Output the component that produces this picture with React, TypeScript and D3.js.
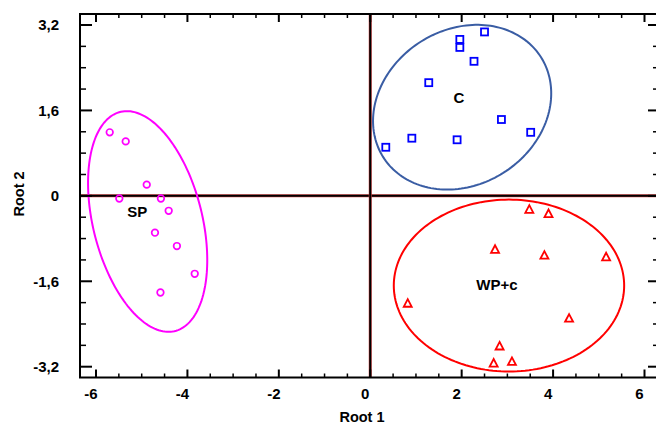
import React from "react";
import * as d3 from "d3";

// ---- Data (Root 1, Root 2) ----
const spX = [-5.70, -5.35, -4.89, -5.49, -4.58, -4.41, -4.71, -4.23, -3.84, -4.59];
const spY = [1.19, 1.02, 0.21, -0.05, -0.05, -0.28, -0.69, -0.94, -1.46, -1.81];

const cX = [2.50, 1.96, 1.96, 2.27, 1.28, 2.87, 3.51, 0.91, 1.90, 0.34];
const cY = [3.07, 2.93, 2.78, 2.52, 2.12, 1.43, 1.19, 1.08, 1.05, 0.91];

const wpX = [3.48, 3.90, 2.73, 3.81, 5.16, 0.82, 4.35, 2.83, 2.70, 3.10];
const wpY = [-0.25, -0.33, -1.00, -1.11, -1.14, -2.01, -2.29, -2.81, -3.13, -3.10];

// Ellipses: [centerX, centerY, semiAxisA, semiAxisB, angleDeg] in data units
const spEllipse = [-4.87, -0.48, 2.14, 1.18, -71.9];
const cEllipse = [2.01, 1.66, 1.99, 1.49, 17.7];
const wpEllipse = [3.035, -1.68, 2.52, 1.61, 0];

const groupLabels = ["SP", "C", "WP+c"];
const labelX = [-5.1, 1.94, 2.77];
const labelY = [-0.29, 1.83, -1.66];

const xMajor = [-6, -4, -2, 0, 2, 4, 6];
const yMajor = [-3.2, -1.6, 0, 1.6, 3.2];
const yTickLabels = ["-3,2", "-1,6", "0", "1,6", "3,2"];

const W = 656;
const H = 427;

export default function App() {
  const x = d3.scaleLinear().domain([-6, 6]).range([96, 644.5]);
  const y = d3.scaleLinear().domain([-3.2, 3.2]).range([366.7, 25]);

  const left = 80;
  const right = 658;
  const top = 14;
  const bottom = 377.5;

  const xMinor = d3.range(-6, 6.001, 0.5).filter((v) => Math.abs(v / 2 - Math.round(v / 2)) > 1e-6);
  const yMinor = d3.range(-3.2, 3.2001, 0.4).filter((v) => Math.abs(v / 1.6 - Math.round(v / 1.6)) > 1e-6);

  const ellipsePath = (e: number[]) => {
    const [cx, cy, a, b, deg] = e;
    const th = (deg * Math.PI) / 180;
    const pts: [number, number][] = d3.range(0, 2 * Math.PI, Math.PI / 90).map((t) => {
      const ex = cx + a * Math.cos(t) * Math.cos(th) - b * Math.sin(t) * Math.sin(th);
      const ey = cy + a * Math.cos(t) * Math.sin(th) + b * Math.sin(t) * Math.cos(th);
      return [x(ex), y(ey)];
    });
    return d3.line().curve(d3.curveLinearClosed)(pts) || "";
  };

  const font = "'Liberation Sans', Arial, sans-serif";
  const triPath = (px: number, py: number) => {
    const s = 4;
    return `M${px},${py - s}L${px + s},${py + s * 0.9}L${px - s},${py + s * 0.9}Z`;
  };

  return (
    <svg width={W} height={H} style={{ position: "absolute", left: 0, top: 0, background: "#fff" }}>
      <rect x={0} y={0} width={W} height={H} fill="#fff" />
      {/* zero lines */}
      <line x1={left} x2={right} y1={y(0)} y2={y(0)} stroke="#d04040" strokeWidth={3} />
      <line x1={left} x2={right} y1={y(0)} y2={y(0)} stroke="#000" strokeWidth={2} />
      <line x1={x(0)} x2={x(0)} y1={top} y2={bottom} stroke="#d04040" strokeWidth={3} />
      <line x1={x(0)} x2={x(0)} y1={top} y2={bottom} stroke="#000" strokeWidth={2} />

      {/* ellipses */}
      <path d={ellipsePath(spEllipse)} fill="none" stroke="#ff00ff" strokeWidth={2} />
      <path d={ellipsePath(cEllipse)} fill="none" stroke="#3a5da4" strokeWidth={2} />
      <path d={ellipsePath(wpEllipse)} fill="none" stroke="#ff0000" strokeWidth={2} />

      {/* points */}
      {spX.map((v, i) => (
        <circle key={"sp" + i} cx={x(v)} cy={y(spY[i])} r={3.3} fill="none" stroke="#ff00ff" strokeWidth={1.7} />
      ))}
      {cX.map((v, i) => (
        <rect key={"c" + i} x={x(v) - 3.5} y={y(cY[i]) - 3.5} width={7} height={7} fill="none" stroke="#0000ff" strokeWidth={1.8} />
      ))}
      {wpX.map((v, i) => (
        <path key={"wp" + i} d={triPath(x(v), y(wpY[i]))} fill="none" stroke="#ff0000" strokeWidth={1.8} />
      ))}

      {/* group labels */}
      {groupLabels.map((t, i) => (
        <text key={t} x={x(labelX[i])} y={y(labelY[i])} dy="0.35em" textAnchor="middle" fontFamily={font} fontWeight="bold" fontSize={15} fill="#000">
          {t}
        </text>
      ))}

      {/* frame */}
      <rect x={left} y={top} width={right - left} height={bottom - top} fill="none" stroke="#000" strokeWidth={2} />

      {/* x ticks */}
      {xMajor.map((v) => (
        <g key={"xm" + v}>
          <line x1={x(v)} x2={x(v)} y1={bottom} y2={bottom - 8} stroke="#000" strokeWidth={2} />
          <line x1={x(v)} x2={x(v)} y1={top} y2={top + 8} stroke="#000" strokeWidth={2} />
          <text x={x(v) - 5} y={398.5} textAnchor="middle" fontFamily={font} fontWeight="bold" fontSize={15} fill="#000">
            {v}
          </text>
        </g>
      ))}
      {xMinor.map((v) => (
        <g key={"xn" + v}>
          <line x1={x(v)} x2={x(v)} y1={bottom} y2={bottom - 4} stroke="#000" strokeWidth={1.5} />
          <line x1={x(v)} x2={x(v)} y1={top} y2={top + 4} stroke="#000" strokeWidth={1.5} />
        </g>
      ))}

      {/* y ticks */}
      {yMajor.map((v, i) => (
        <g key={"ym" + v}>
          <line x1={left} x2={left + 12} y1={y(v)} y2={y(v)} stroke="#000" strokeWidth={2} />
          <line x1={right} x2={right - 10} y1={y(v)} y2={y(v)} stroke="#000" strokeWidth={2} />
          <text x={59} y={y(v)} dy="0.35em" textAnchor="end" fontFamily={font} fontWeight="bold" fontSize={15} fill="#000">
            {yTickLabels[i]}
          </text>
        </g>
      ))}
      {yMinor.map((v) => (
        <g key={"yn" + v}>
          <line x1={left} x2={left + 6} y1={y(v)} y2={y(v)} stroke="#000" strokeWidth={1.5} />
          <line x1={right} x2={right - 5} y1={y(v)} y2={y(v)} stroke="#000" strokeWidth={1.5} />
        </g>
      ))}

      {/* axis titles */}
      <text x={362} y={422} textAnchor="middle" fontFamily={font} fontWeight="bold" fontSize={14.5} fill="#000">
        Root 1
      </text>
      <text transform="translate(24,194) rotate(-90)" textAnchor="middle" fontFamily={font} fontWeight="bold" fontSize={14.5} fill="#000">
        Root 2
      </text>
    </svg>
  );
}
